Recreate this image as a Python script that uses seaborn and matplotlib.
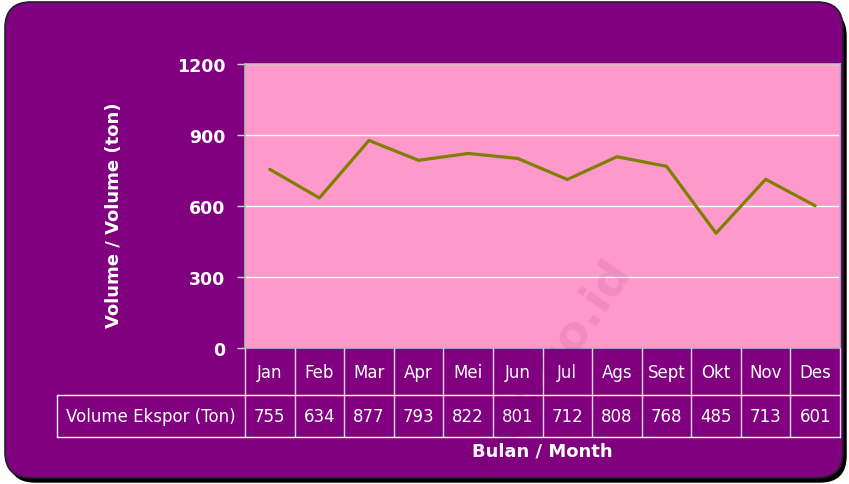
import numpy as np
import pandas as pd
import matplotlib
matplotlib.use('Agg')
import matplotlib.pyplot as plt
import matplotlib.transforms as mtransforms
from matplotlib.patches import FancyBboxPatch
import seaborn as sns

sns.set_style('white')
plt.rcParams['font.family'] = ['DejaVu Sans']

months = ['Jan', 'Feb', 'Mar', 'Apr', 'Mei', 'Jun', 'Jul', 'Ags', 'Sept', 'Okt', 'Nov', 'Des']
volume = [755, 634, 877, 793, 822, 801, 712, 808, 768, 485, 713, 601]
row_label = 'Volume Ekspor (Ton)'
y_ticks = [0, 300, 600, 900, 1200]

purple = '#800080'
pink = '#FF99CC'
olive = '#808000'

df = pd.DataFrame({'month': months, 'volume': volume})
df['pos'] = range(len(months))

fig = plt.figure(figsize=(8.49, 4.85), dpi=100)
fig.patch.set_facecolor('white')

# rounded purple frame with dark shadow (pixel coords)
ident = mtransforms.IdentityTransform()
shadow = FancyBboxPatch((9, 2), 837, 472, boxstyle='round,pad=0,rounding_size=26',
                        transform=ident, facecolor='black', edgecolor='black', zorder=-5)
frame = FancyBboxPatch((5, 6), 838, 476, boxstyle='round,pad=0,rounding_size=26',
                       transform=ident, facecolor=purple, edgecolor='#202020', lw=1.2, zorder=-4)
fig.patches.extend([shadow, frame])

ax = fig.add_axes([245 / 849, 1 - 349 / 485, 595 / 849, 284 / 485])
ax.set_facecolor(pink)
ax.set_zorder(2)

sns.lineplot(data=df, x='pos', y='volume', ax=ax, color=olive, lw=2.3, zorder=3)

ax.set_xlim(-0.5, len(months) - 0.5)
ax.set_ylim(0, 1200)
ax.set_yticks(y_ticks)
ax.set_yticklabels([str(v) for v in y_ticks], color='white', fontsize=12.5, fontweight='bold')
ax.set_xticks([])
ax.tick_params(axis='y', left=True, length=6, width=1, color='#D0D0D0', pad=8)
ax.grid(axis='y', color='white', lw=1)
ax.set_axisbelow(True)
for s in ax.spines.values():
    s.set_color('#B8B8B8')
    s.set_linewidth(1.2)

ax.set_xlabel('')
ax.set_ylabel('Volume / Volume (ton)', color='white', fontsize=13, fontweight='bold')
ax.yaxis.set_label_coords(-0.205, 0.47)

# data table under the plot
h1 = 47 / 284
h2 = 89 / 284
left = -188 / 595
tc = 'white'
blend = mtransforms.blended_transform_factory(ax.transData, ax.transAxes)
for i, (m, v) in enumerate(zip(months, volume)):
    ax.text(i, -h1 / 2, m, transform=blend, ha='center', va='center',
            color='white', fontsize=12, clip_on=False)
    ax.text(i, -(h1 + h2) / 2, str(v), transform=blend, ha='center', va='center',
            color='white', fontsize=12, clip_on=False)
for i in range(len(months) + 1):
    ax.plot([i - 0.5, i - 0.5], [0, -h2], transform=blend, color=tc, lw=1, alpha=0.85, clip_on=False)
ax.plot([left, 1], [-h1, -h1], transform=ax.transAxes, color=tc, lw=1, clip_on=False)
ax.plot([left, 1], [-h2, -h2], transform=ax.transAxes, color=tc, lw=1, clip_on=False)
ax.plot([left, left], [-h1, -h2], transform=ax.transAxes, color=tc, lw=1, clip_on=False)
ax.text(left / 2, -(h1 + h2) / 2, row_label, transform=ax.transAxes, ha='center', va='center',
        color='white', fontsize=12, clip_on=False)

ax.text(0.5, -0.36, 'Bulan / Month', transform=ax.transAxes, ha='center', va='center',
        color='white', fontsize=13, fontweight='bold', clip_on=False)

# faint watermark
fig.text(550 / 849, 1 - 365 / 485, 'bps.go.id', rotation=55, ha='center', va='center',
         fontsize=34, fontweight='bold', color='#600050', alpha=0.09, zorder=10)

fig.savefig('out.png', dpi=100, facecolor='white')
